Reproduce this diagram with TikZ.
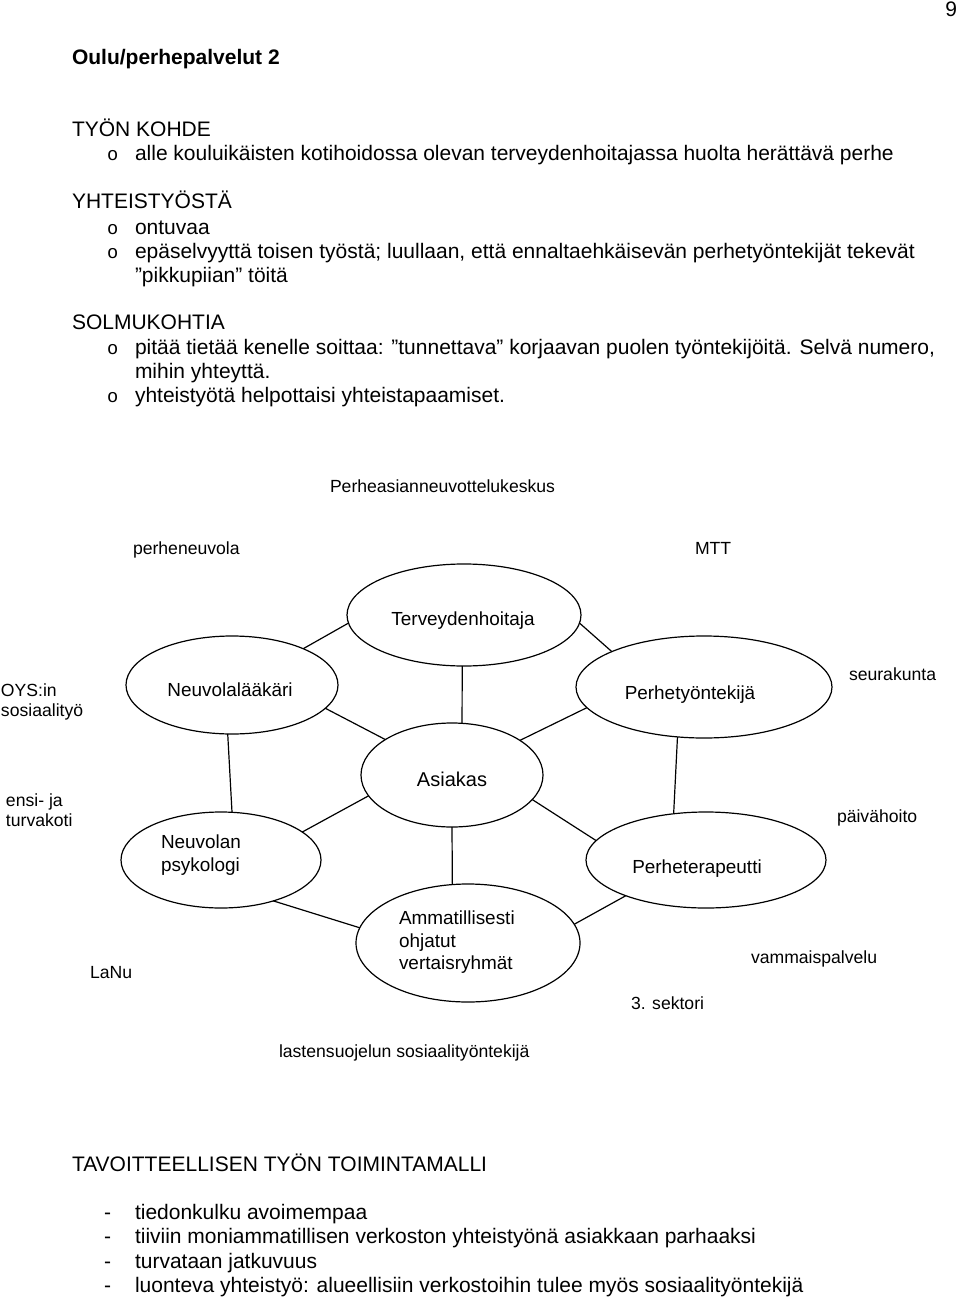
\documentclass[tikz,border=0pt]{standalone}
\usepackage{fontspec}
\setmainfont{Liberation Sans}
\newfontfamily\bulletfont{Liberation Mono}
\usetikzlibrary{shapes.geometric}
\begin{document}
\begin{tikzpicture}[x=0.75pt,y=-0.75pt,
 body/.style={anchor=base west,inner sep=0pt,outer sep=0pt,font=\fontsize{15.75pt}{19pt}\selectfont},
 bul/.style={anchor=base west,inner sep=0pt,outer sep=0pt,font=\bulletfont\fontsize{14pt}{17pt}\selectfont},
 lab/.style={anchor=base west,inner sep=0pt,outer sep=0pt,font=\fontsize{13.2pt}{16pt}\selectfont},
 elab/.style={anchor=base,inner sep=0pt,outer sep=0pt,font=\fontsize{14.2pt}{17pt}\selectfont},
 elabl/.style={anchor=base west,inner sep=0pt,outer sep=0pt,font=\fontsize{14.2pt}{17pt}\selectfont},
 ell/.style={draw,ellipse,inner sep=0pt,outer sep=0pt,line width=0.9pt},
 conn/.style={line width=0.9pt}]
\useasboundingbox (0,0) rectangle (960,1298);

% page number and header
\node[body,anchor=base east] (pnum) at (957,17) {9};
\node[body,font=\fontsize{15.75pt}{19pt}\selectfont\bfseries] (title) at (72,65) {Oulu/perhepalvelut 2};

\node[body] (h1) at (72,137) {TYÖN KOHDE};
\node[bul] (b1o) at (107,161) {o};
\node[body] (b1) at (135,161) {alle kouluikäisten kotihoidossa olevan terveydenhoitajassa huolta herättävä perhe};

\node[body] (h2) at (72,209) {YHTEISTYÖSTÄ};
\node[bul] (b2o) at (107,234) {o};
\node[body] (b2) at (135,234) {ontuvaa};
\node[bul] (b3o) at (107,258) {o};
\node[body] (b3) at (135,258) {epäselvyyttä toisen työstä; luullaan, että ennaltaehkäisevän perhetyöntekijät tekevät};
\node[body] (b3b) at (135,282) {”pikkupiian” töitä};

\node[body] (h3) at (72,329) {SOLMUKOHTIA};
\node[bul] (b4o) at (107,354) {o};
\node[body] (b4) at (135,354) {pitää tietää kenelle soittaa: ”tunnettava” korjaavan puolen työntekijöitä. Selvä numero,};
\node[body] (b4b) at (135,378) {mihin yhteyttä.};
\node[bul] (b5o) at (107,402) {o};
\node[body] (b5) at (135,402) {yhteistyötä helpottaisi yhteistapaamiset.};

% diagram outer labels
\node[lab] (pak) at (330,492) {Perheasianneuvottelukeskus};
\node[lab] (pn) at (133,554) {perheneuvola};
\node[lab] (mtt) at (695,554) {MTT};
\node[lab] (oys1) at (1,696) {OYS:in};
\node[lab] (oys2) at (1,716) {sosiaalityö};
\node[lab] (seur) at (849,680) {seurakunta};
\node[lab] (ensi1) at (6,806) {ensi- ja};
\node[lab] (ensi2) at (6,826) {turvakoti};
\node[lab] (paiv) at (837,822) {päivähoito};
\node[lab] (lanu) at (90,978) {LaNu};
\node[lab] (vamm) at (751,963) {vammaispalvelu};
\node[lab] (sek) at (631,1009) {3. sektori};
\node[lab] (lsuo) at (279,1057) {lastensuojelun sosiaalityöntekijä};

% ellipses
\node[ell,minimum width=175.5pt,minimum height=76.5pt] (terv) at (464,615) {};
\node[ell,minimum width=159pt,minimum height=73.5pt] (neuv) at (232,685) {};
\node[ell,minimum width=192pt,minimum height=76.5pt] (perh) at (704,687) {};
\node[ell,minimum width=136.5pt,minimum height=78pt] (asia) at (452,775) {};
\node[ell,minimum width=150pt,minimum height=72pt] (psyk) at (221,860) {};
\node[ell,minimum width=180pt,minimum height=72pt] (pter) at (706,860) {};
\node[ell,minimum width=168pt,minimum height=88.5pt] (amm) at (468,943) {};

% ellipse labels
\node[elab] (tervT) at (463,625) {Terveydenhoitaja};
\node[elab] (neuvT) at (230,696) {Neuvolalääkäri};
\node[elab] (perhT) at (690,699) {Perhetyöntekijä};
\node[elab,font=\fontsize{15pt}{18pt}\selectfont] (asiaT) at (452,786) {Asiakas};
\node[elabl] (psykT1) at (161,848) {Neuvolan};
\node[elabl] (psykT2) at (161,871) {psykologi};
\node[elab] (pterT) at (697,873) {Perheterapeutti};
\node[elabl] (ammT1) at (399,924) {Ammatillisesti};
\node[elabl] (ammT2) at (399,947) {ohjatut};
\node[elabl] (ammT3) at (399,969) {vertaisryhmät};

% connectors
\draw[conn] (terv.184) -- (neuv.27);
\draw[conn] (terv.356) -- (perh.159);
\draw[conn] (terv.268) -- (asia.79);
\draw[conn] (neuv.346) -- (asia.152);
\draw[conn] (perh.190) -- (asia.27);
\draw[conn] (neuv.265) -- (psyk.77);
\draw[conn] (perh.242) -- (pter.125);
\draw[conn] (asia.194) -- (psyk.19);
\draw[conn] (asia.343) -- (pter.170);
\draw[conn] (asia.270) -- (amm.105);
\draw[conn] (psyk.322) -- (amm.172);
\draw[conn] (amm.10) -- (pter.204);

% bottom section
\node[body] (h4) at (72,1171) {TAVOITTEELLISEN TYÖN TOIMINTAMALLI};
\node[body] (d1) at (104,1219) {-};
\node[body] (l1) at (135,1219) {tiedonkulku avoimempaa};
\node[body] (d2) at (104,1243) {-};
\node[body] (l2) at (135,1243) {tiiviin moniammatillisen verkoston yhteistyönä asiakkaan parhaaksi};
\node[body] (d3) at (104,1268) {-};
\node[body] (l3) at (135,1268) {turvataan jatkuvuus};
\node[body] (d4) at (104,1292) {-};
\node[body] (l4) at (135,1292) {luonteva yhteistyö: alueellisiin verkostoihin tulee myös sosiaalityöntekijä};
\end{tikzpicture}
\end{document}
